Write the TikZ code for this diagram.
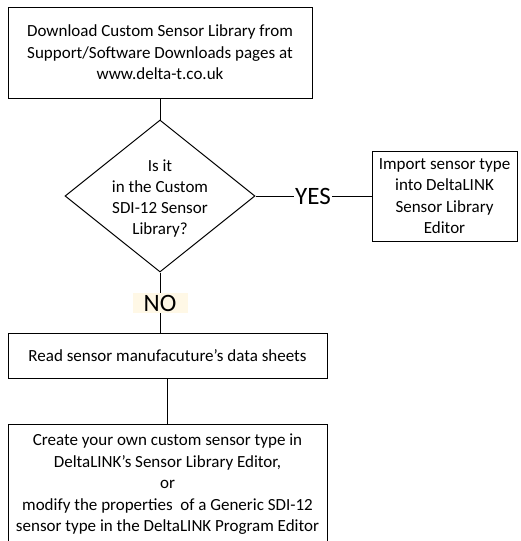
\documentclass[tikz,border=0pt]{standalone}
\usepackage{fontspec}
\setmainfont{Carlito}
\usetikzlibrary{shapes.geometric}
\definecolor{nobg}{HTML}{FFF8E6}
\tikzset{
  every picture/.style={x=1pt,y=-1pt},
  boxnode/.style={draw,line width=1pt,align=center,inner sep=0pt,font=\fontsize{17}{21.5}\selectfont},
  bigtxt/.style={font=\fontsize{25}{26}\selectfont,inner sep=1pt},
  conn/.style={line width=1pt}
}
\begin{document}
\begin{tikzpicture}
\useasboundingbox (0,0) rectangle (520,541);
\node[boxnode,minimum width=304pt,minimum height=91pt] (dl) at (160,52.5)
  {Download Custom Sensor Library from\\Support/Software Downloads pages at\\www.delta-t.co.uk};
\node[draw,line width=1pt,diamond,aspect=1.25,minimum width=190pt,minimum height=152pt,inner sep=0pt] (q) at (160,196) {};
\node[align=center,font=\fontsize{17}{21}\selectfont] (qt) at (160,199) {Is it\\in the Custom\\SDI-12 Sensor\\Library?};
\node[boxnode,minimum width=145pt,minimum height=90pt] (imp) at (444.5,196)
  {Import sensor type\\into DeltaLINK\\Sensor Library\\Editor};
\node[bigtxt] (yes) at (313,196) {YES};
\node[boxnode,minimum width=319pt,minimum height=45pt] (rd) at (167.5,355.5)
  {Read sensor manufacuture’s data sheets};
\node[boxnode,minimum width=319pt,minimum height=121pt] (cr) at (167.5,484.5)
  {Create your own custom sensor type in\\DeltaLINK’s Sensor Library Editor,\\or\\modify the properties\ \ of a Generic SDI-12\\sensor type in the DeltaLINK Program Editor};
\draw[conn] (dl.south) -- (q.north);
\draw[conn] (q.east) -- (yes.west);
\draw[conn] (yes.east) -- (imp.west);
\coordinate (rdtop) at (160,333);
\draw[conn] (q.south) -- (rdtop);
\node[bigtxt,fill=nobg,minimum width=55pt,minimum height=20pt,inner sep=0pt] (no) at (160,303) {NO};
\draw[conn] (rd.south) -- (cr.north);
\end{tikzpicture}
\end{document}
